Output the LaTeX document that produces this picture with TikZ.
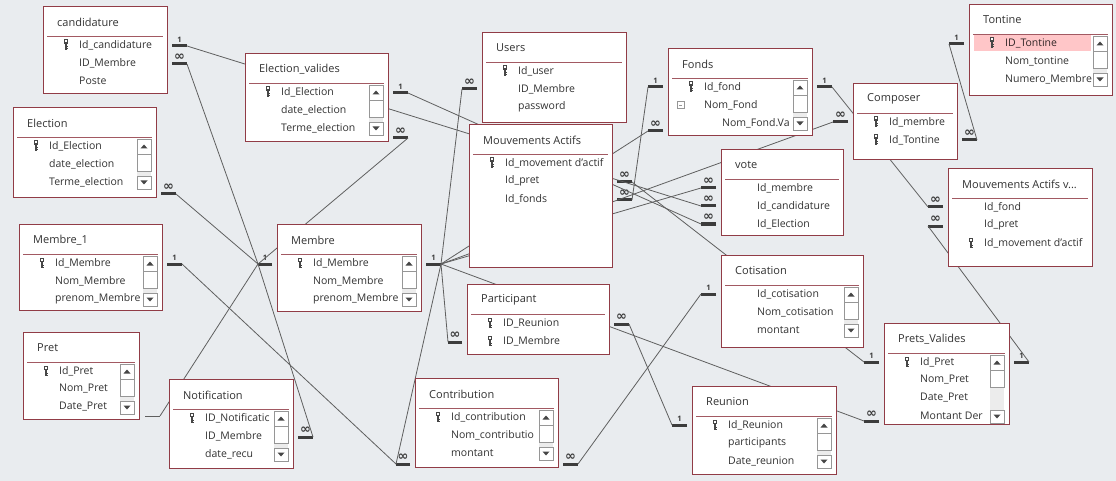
\documentclass[tikz,border=0pt]{standalone}
\usepackage{fontspec}
\setmainfont{Open Sans}
\newfontfamily\symfont{DejaVu Sans}
\usetikzlibrary{calc}
\definecolor{bgcol}{RGB}{233,236,239}
\definecolor{tblred}{RGB}{145,60,70}
\definecolor{txtcol}{RGB}{50,50,50}
\definecolor{relcol}{RGB}{95,95,95}
\definecolor{stubcol}{RGB}{60,60,60}
\definecolor{sbgray}{RGB}{150,150,150}
\definecolor{sbtrack}{RGB}{236,236,236}
\definecolor{selpink}{RGB}{255,198,200}
\definecolor{keycol}{RGB}{70,70,70}

\tikzset{
  tblbox/.style={draw=tblred, line width=0.9pt, fill=white, inner sep=0, outer sep=0},
  tbltitle/.style={font=\fontsize{11}{13}\selectfont, text=txtcol, inner sep=0},
  tblsep/.style={draw=tblred!85, line width=0.8pt},
  fieldrow/.style={font=\fontsize{10.5}{12}\selectfont, text=txtcol, inner sep=0, anchor=west},
  rel/.style={draw=relcol, line width=0.8pt},
  stub/.style={draw=stubcol, line width=3pt},
  card/.style={font=\fontsize{7.5}{7.5}\selectfont\bfseries, text=stubcol, inner sep=0, anchor=south},
  sbbox/.style={draw=sbgray, fill=white, line width=0.7pt},
  keyicon/.pic={
    \fill[keycol] (-2,-5.5) rectangle (2,-1);
    \fill[white] (-0.8,-4.5) rectangle (0.8,-2.5);
    \draw[keycol, line width=1.2pt] (0,-1) -- (0,5);
    \draw[keycol, line width=1pt] (0,2) -- (2,2) (0,4) -- (2,4);
  }
}

% table: name, left, top, right, bottom, title, fields
\newcommand\dbtable[7]{%
  \node[tblbox, anchor=north west, minimum width=#4-#2, minimum height=#5-#3] (#1) at (#2,#3) {};
  \node[tbltitle, anchor=west] (#1-t) at (#2+14,#3+16) {#6};
  \draw[tblsep] (#2+4,#3+30) -- (#4-4,#3+30);
  \foreach \fld [count=\i] in {#7}
    \node[fieldrow] (#1-\i) at (#2+36,#3+21+18*\i) {\fld};
}
% scrollbar: right x, first row y, last row y
\newcommand\scrollbar[3]{%
  \fill[sbtrack] (#1-14,#2+8) rectangle (#1,#3-6);
  \draw[sbbox] (#1-14,#2-7) rectangle (#1,#2+8);
  \draw[sbbox] (#1-14,#2+8) rectangle (#1,#2+25);
  \draw[sbbox] (#1-14,#3-6) rectangle (#1,#3+7);
  \fill[keycol] (#1-10.5,#2+2.5) -- (#1-3.5,#2+2.5) -- (#1-7,#2-1.5) -- cycle;
  \fill[keycol] (#1-10.5,#3-1.5) -- (#1-3.5,#3-1.5) -- (#1-7,#3+2.5) -- cycle;
}
% relation end: name, inner x, outer x, y, label
\newcommand\relend[5]{%
  \coordinate (#1) at (#3,#4);
  \draw[stub] (#2,#4) -- (#3,#4);
  \node[card] at ({(#2+#3)/2},#4-3) {#5};
}
\newcommand\manysym{{\symfont\fontsize{13}{13}\selectfont ∞}}

\begin{document}
\begin{tikzpicture}[x=1pt,y=-1pt]
  \useasboundingbox (0,0) rectangle (1116,481);
  \fill[bgcol] (0,0) rectangle (1116,481);

  % relation ends
  \relend{cand-a}{172}{187}{46}{1}
  \relend{cand-b}{172}{187}{64}{\manysym}
  \relend{elec-a}{161}{176}{194}{\manysym}
  \relend{mem1-a}{167}{182}{264}{1}
  \relend{memb-l}{272}{258}{264}{1}
  \relend{memb-r}{426}{441}{264}{1}
  \relend{notif-a}{298}{313}{437}{\manysym}
  \relend{ev-a}{393}{408}{93}{1}
  \relend{ev-b}{393}{408}{138}{\manysym}
  \relend{users-a}{477}{462}{89}{\manysym}
  \relend{ma-a}{617}{632}{182}{\manysym}
  \relend{ma-b}{617}{632}{200}{\manysym}
  \relend{part-l}{462}{448}{342}{\manysym}
  \relend{part-r}{614}{629}{324}{\manysym}
  \relend{contr-l}{410}{396}{464}{\manysym}
  \relend{contr-r}{563}{578}{464}{\manysym}
  \relend{fonds-a}{663}{648}{87}{1}
  \relend{fonds-b}{663}{648}{131}{\manysym}
  \relend{fonds-c}{817}{832}{87}{1}
  \relend{vote-a}{716}{701}{188}{\manysym}
  \relend{vote-b}{716}{701}{206}{\manysym}
  \relend{vote-c}{716}{701}{224}{\manysym}
  \relend{comp-a}{848}{833}{122}{\manysym}
  \relend{comp-b}{962}{977}{140}{\manysym}
  \relend{tont-a}{964}{949}{44}{1}
  \relend{mav-a}{943}{928}{207}{\manysym}
  \relend{mav-b}{943}{928}{226}{\manysym}
  \relend{cotis-a}{716}{701}{294}{1}
  \relend{pv-a}{879}{864}{362}{1}
  \relend{pv-b}{879}{864}{421}{\manysym}
  \relend{pv-c}{1014}{1029}{362}{1}
  \relend{reun-a}{687}{672}{425}{1}
  \coordinate (pret-a) at (160,416);
  \draw[rel] (145,416) -- (pret-a);

  % relations
  \draw[rel] (cand-a) -- (vote-b);
  \draw[rel] (cand-b) -- (memb-l);
  \draw[rel] (notif-a) -- (memb-l);
  \draw[rel] (elec-a) -- (memb-l);
  \draw[rel] (pret-a) -- (memb-l);
  \draw[rel] (ev-b) -- (memb-l);
  \draw[rel] (mem1-a) -- (contr-l);
  \draw[rel] (memb-r) -- (users-a);
  \draw[rel] (memb-r) -- (fonds-b);
  \draw[rel] (memb-r) -- (comp-a);
  \draw[rel] (memb-r) -- (vote-a);
  \draw[rel] (memb-r) -- (pv-b);
  \draw[rel] (memb-r) -- (part-l);
  \draw[rel] (memb-r) -- (contr-l);
  \draw[rel] (ev-a) -- (vote-c);
  \draw[rel] (ma-b) -- (fonds-a);
  \draw[rel] (ma-a) -- (pv-a);
  \draw[rel] (fonds-c) -- (mav-a);
  \draw[rel] (tont-a) -- (comp-b);
  \draw[rel] (mav-b) -- (pv-c);
  \draw[rel] (cotis-a) -- (contr-r);
  \draw[rel] (part-r) -- (reun-a);

  % tables
  \dbtable{cand}{43}{6}{167}{93}{candidature}{Id\_candidature, ID\_Membre, Poste}
  \pic at (66,45) {keyicon};
  \dbtable{elec}{13}{107}{156}{197}{Election}{Id\_Election, date\_election, Terme\_election}
  \pic at (36,146) {keyicon};
  \scrollbar{151}{146}{182}
  \dbtable{mem1}{19}{224}{162}{310}{Membre\_1}{Id\_Membre, Nom\_Membre, prenom\_Membre}
  \pic at (42,263) {keyicon};
  \scrollbar{157}{263}{299}
  \dbtable{pret}{23}{332}{139}{419}{Pret}{Id\_Pret, Nom\_Pret, Date\_Pret}
  \pic at (46,371) {keyicon};
  \scrollbar{134}{371}{407}
  \dbtable{notif}{169}{379}{293}{468}{Notification}{ID\_Notificatic, ID\_Membre, date\_recu}
  \pic at (192,418) {keyicon};
  \scrollbar{288}{418}{454}
  \dbtable{ev}{245}{53}{388}{141}{Election\_valides}{Id\_Election, date\_election, Terme\_election}
  \pic at (268,92) {keyicon};
  \scrollbar{383}{92}{128}
  \dbtable{memb}{277}{224}{421}{311}{Membre}{Id\_Membre, Nom\_Membre, prenom\_Membre}
  \pic at (300,263) {keyicon};
  \scrollbar{416}{263}{299}
  \dbtable{users}{482}{32}{626}{122}{Users}{Id\_user, ID\_Membre, password}
  \pic at (505,71) {keyicon};
  \dbtable{ma}{469}{124}{612}{267}{Mouvements Actifs}{Id\_movement d'actif, Id\_pret, Id\_fonds}
  \pic at (492,163) {keyicon};
  \dbtable{part}{467}{284}{609}{354}{Participant}{ID\_Reunion, ID\_Membre}
  \pic at (490,323) {keyicon};
  \pic at (490,341) {keyicon};
  \dbtable{contr}{415}{378}{558}{467}{Contribution}{Id\_contribution, Nom\_contributio, montant}
  \pic at (438,417) {keyicon};
  \scrollbar{553}{417}{453}
  \dbtable{fonds}{668}{48}{812}{135}{Fonds}{Id\_fond, Nom\_Fond}
  \node[fieldrow] (fonds-3) at (722,123) {Nom\_Fond.Va};
  \pic at (691,87) {keyicon};
  \draw[sbgray, line width=0.7pt] (677,101.5) rectangle (684,108.5) (678.8,105) -- (682.2,105);
  \scrollbar{807}{87}{123}
  \dbtable{vote}{721}{149}{843}{235}{vote}{Id\_membre, Id\_candidature, Id\_Election}
  \dbtable{comp}{853}{83}{957}{159}{Composer}{Id\_membre, Id\_Tontine}
  \pic at (876,122) {keyicon};
  \pic at (876,140) {keyicon};
  \dbtable{tont}{969}{4}{1112}{95}{Tontine}{ID\_Tontine, Nom\_tontine, Numero\_Membre}
  \fill[selpink, blend mode=multiply] (974,35) rectangle (1091,51);
  \pic at (992,43) {keyicon};
  \scrollbar{1107}{43}{79}
  \dbtable{mav}{948}{168}{1092}{266}{Mouvements Actifs v...}{Id\_fond, Id\_pret, Id\_movement d'actif}
  \pic at (971,243) {keyicon};
  \dbtable{cotis}{721}{255}{863}{347}{Cotisation}{Id\_cotisation, Nom\_cotisation, montant}
  \scrollbar{858}{294}{330}
  \dbtable{pv}{884}{323}{1009}{424}{Prets\_Valides}{Id\_Pret, Nom\_Pret, Date\_Pret, Montant Der}
  \pic at (907,362) {keyicon};
  \scrollbar{1004}{362}{416}
  \dbtable{reun}{692}{386}{836}{474}{Reunion}{Id\_Reunion, participants, Date\_reunion}
  \pic at (715,425) {keyicon};
  \scrollbar{831}{425}{461}
\end{tikzpicture}
\end{document}
